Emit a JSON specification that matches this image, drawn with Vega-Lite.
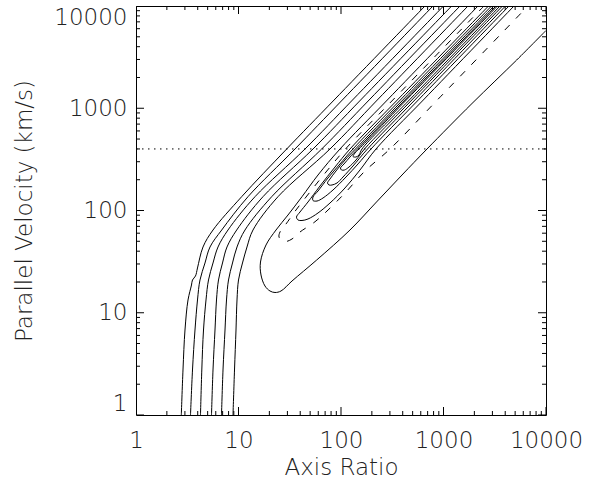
{
  "$schema": "https://vega.github.io/schema/vega-lite/v6.json",
  "width": 410,
  "height": 409,
  "autosize": {"type": "none"},
  "padding": {"left": 136, "top": 6, "right": 49, "bottom": 70},
  "background": "white",
  "config": {
    "view": {"stroke": "black", "strokeWidth": 1},
    "axis": {
      "domain": false,
      "grid": false,
      "ticks": false,
      "tickSize": 0,
      "labelFont": "DejaVu Sans",
      "labelFontWeight": 200,
      "labelFontSize": 23,
      "labelColor": "#222",
      "titleFont": "DejaVu Sans",
      "titleFontWeight": 200,
      "titleFontSize": 23,
      "titleColor": "#222",
      "labelOverlap": false,
      "labelFlush": false,
      "labelBound": false
    }
  },
  "datasets": {
    "contours": [
      {"c":"A1","o":1,"x":2.767,"y":1},
      {"c":"A1","o":2,"x":2.874,"y":2.755},
      {"c":"A1","o":3,"x":3.006,"y":6.781},
      {"c":"A1","o":4,"x":3.217,"y":13.33},
      {"c":"A1","o":5,"x":3.479,"y":18.68},
      {"c":"A1","o":6,"x":3.558,"y":20.91},
      {"c":"A1","o":7,"x":3.806,"y":22.88},
      {"c":"A1","o":8,"x":3.981,"y":27.4},
      {"c":"A1","o":9,"x":4.506,"y":43.96},
      {"c":"A1","o":10,"x":5.64,"y":64.46},
      {"c":"A1","o":11,"x":10.74,"y":136.5},
      {"c":"A1","o":12,"x":29.53,"y":399.5},
      {"c":"A1","o":13,"x":85.64,"y":1204},
      {"c":"A1","o":14,"x":659.8,"y":10000},

      {"c":"A2","o":1,"x":3.402,"y":1},
      {"c":"A2","o":2,"x":3.558,"y":2.755},
      {"c":"A2","o":3,"x":3.763,"y":6.781},
      {"c":"A2","o":4,"x":3.981,"y":13.33},
      {"c":"A2","o":5,"x":4.21,"y":20.91},
      {"c":"A2","o":6,"x":4.711,"y":30.66},
      {"c":"A2","o":7,"x":5.272,"y":43.96},
      {"c":"A2","o":8,"x":6.857,"y":64.46},
      {"c":"A2","o":9,"x":12.38,"y":136.5},
      {"c":"A2","o":10,"x":35.58,"y":399.5},
      {"c":"A2","o":11,"x":102.97,"y":1204},
      {"c":"A2","o":12,"x":789.8,"y":10000},

      {"c":"A3","o":1,"x":4.258,"y":1},
      {"c":"A3","o":2,"x":4.385,"y":2.755},
      {"c":"A3","o":3,"x":4.556,"y":6.781},
      {"c":"A3","o":4,"x":4.819,"y":13.33},
      {"c":"A3","o":5,"x":5.097,"y":20.91},
      {"c":"A3","o":6,"x":5.64,"y":30.66},
      {"c":"A3","o":7,"x":6.31,"y":43.96},
      {"c":"A3","o":8,"x":7.898,"y":64.46},
      {"c":"A3","o":9,"x":14.49,"y":136.5},
      {"c":"A3","o":10,"x":44.55,"y":399.5},
      {"c":"A3","o":11,"x":129.5,"y":1204},
      {"c":"A3","o":12,"x":1000,"y":10000},

      {"c":"A4","o":1,"x":5.453,"y":1},
      {"c":"A4","o":2,"x":5.64,"y":2.755},
      {"c":"A4","o":3,"x":5.898,"y":6.781},
      {"c":"A4","o":4,"x":6.1,"y":13.33},
      {"c":"A4","o":5,"x":6.38,"y":20.91},
      {"c":"A4","o":6,"x":6.982,"y":30.66},
      {"c":"A4","o":7,"x":7.722,"y":43.96},
      {"c":"A4","o":8,"x":9.603,"y":64.46},
      {"c":"A4","o":9,"x":17.34,"y":136.5},
      {"c":"A4","o":10,"x":53.32,"y":399.5},
      {"c":"A4","o":11,"x":155.3,"y":1204},
      {"c":"A4","o":12,"x":1202,"y":10000},

      {"c":"A5","o":1,"x":6.826,"y":1},
      {"c":"A5","o":2,"x":7.061,"y":2.755},
      {"c":"A5","o":3,"x":7.385,"y":6.781},
      {"c":"A5","o":4,"x":7.638,"y":13.33},
      {"c":"A5","o":5,"x":7.989,"y":20.91},
      {"c":"A5","o":6,"x":8.739,"y":30.66},
      {"c":"A5","o":7,"x":9.669,"y":43.96},
      {"c":"A5","o":8,"x":11.57,"y":64.46},
      {"c":"A5","o":9,"x":21.09,"y":136.5},
      {"c":"A5","o":10,"x":64.81,"y":399.5},
      {"c":"A5","o":11,"x":188,"y":1204},
      {"c":"A5","o":12,"x":1449,"y":10000},

      {"c":"A6","o":1,"x":8.837,"y":1},
      {"c":"A6","o":2,"x":9.141,"y":2.755},
      {"c":"A6","o":3,"x":9.454,"y":6.781},
      {"c":"A6","o":4,"x":9.669,"y":13.33},
      {"c":"A6","o":5,"x":10,"y":20.91},
      {"c":"A6","o":6,"x":10.94,"y":30.66},
      {"c":"A6","o":7,"x":12.1,"y":43.96},
      {"c":"A6","o":8,"x":13.85,"y":64.46},
      {"c":"A6","o":9,"x":24.29,"y":136.5},
      {"c":"A6","o":10,"x":78.09,"y":399.5},
      {"c":"A6","o":11,"x":226,"y":1204},
      {"c":"A6","o":12,"x":1734,"y":10000},

      {"c":"T1","o":1,"x":2171,"y":10000},
      {"c":"T1","o":2,"x":283,"y":1204},
      {"c":"T1","o":3,"x":97.77,"y":399.5},
      {"c":"T1","o":4,"x":59.66,"y":222.4},
      {"c":"T1","o":5,"x":41.64,"y":136.5},
      {"c":"T1","o":6,"x":30.4,"y":90.36},
      {"c":"T1","o":7,"x":23.22,"y":64.46},
      {"c":"T1","o":8,"x":18.55,"y":45.99},
      {"c":"T1","o":9,"x":16.39,"y":31.35},
      {"c":"T1","o":10,"x":16.58,"y":23.4},
      {"c":"T1","o":11,"x":18.13,"y":18.26},
      {"c":"T1","o":12,"x":20.29,"y":16.32},
      {"c":"T1","o":13,"x":22.7,"y":15.78},
      {"c":"T1","o":14,"x":25.98,"y":16.32},
      {"c":"T1","o":15,"x":33.27,"y":20.44},
      {"c":"T1","o":16,"x":57.93,"y":32.8},
      {"c":"T1","o":17,"x":122.4,"y":64.46},
      {"c":"T1","o":18,"x":222,"y":121.1},
      {"c":"T1","o":19,"x":393.7,"y":222.4},
      {"c":"T1","o":20,"x":690.3,"y":399.5},
      {"c":"T1","o":21,"x":1897,"y":1113},
      {"c":"T1","o":22,"x":5177,"y":2964},
      {"c":"T1","o":23,"x":10000,"y":5760},

      {"c":"T2","o":1,"x":2484,"y":10000},
      {"c":"T2","o":2,"x":320.2,"y":1204},
      {"c":"T2","o":3,"x":110.6,"y":399.5},
      {"c":"T2","o":4,"x":71.41,"y":238},
      {"c":"T2","o":5,"x":49.84,"y":151.7},
      {"c":"T2","o":6,"x":36.39,"y":101.1},
      {"c":"T2","o":7,"x":29.07,"y":73.79},
      {"c":"T2","o":8,"x":25.4,"y":61.62},
      {"c":"T2","o":9,"x":24.84,"y":55.06},
      {"c":"T2","o":10,"x":26.57,"y":50.89},
      {"c":"T2","o":11,"x":29.07,"y":49.75},
      {"c":"T2","o":12,"x":33.27,"y":52.64},
      {"c":"T2","o":13,"x":39.81,"y":61.62},
      {"c":"T2","o":14,"x":55.76,"y":77.63},
      {"c":"T2","o":15,"x":73.02,"y":98.88},
      {"c":"T2","o":16,"x":109.4,"y":148.3},
      {"c":"T2","o":17,"x":171.4,"y":243.4},
      {"c":"T2","o":18,"x":300.6,"y":399.5},
      {"c":"T2","o":19,"x":870,"y":1204},
      {"c":"T2","o":20,"x":6674,"y":10000},

      {"c":"T3","o":1,"x":2748,"y":10000},
      {"c":"T3","o":2,"x":354.2,"y":1204},
      {"c":"T3","o":3,"x":122.4,"y":399.5},
      {"c":"T3","o":4,"x":87.4,"y":266.3},
      {"c":"T3","o":5,"x":62.39,"y":173.6},
      {"c":"T3","o":6,"x":47.64,"y":121.1},
      {"c":"T3","o":7,"x":39.81,"y":96.67},
      {"c":"T3","o":8,"x":36.81,"y":86.38},
      {"c":"T3","o":9,"x":38.06,"y":80.74},
      {"c":"T3","o":10,"x":41.64,"y":79.84},
      {"c":"T3","o":11,"x":47.64,"y":82.59},
      {"c":"T3","o":12,"x":59.66,"y":94.54},
      {"c":"T3","o":13,"x":78.09,"y":118.4},
      {"c":"T3","o":14,"x":109.4,"y":166},
      {"c":"T3","o":15,"x":153.2,"y":249},
      {"c":"T3","o":16,"x":219.5,"y":399.5},
      {"c":"T3","o":17,"x":635.2,"y":1204},
      {"c":"T3","o":18,"x":4873,"y":10000},

      {"c":"T4","o":1,"x":2939,"y":10000},
      {"c":"T4","o":2,"x":378.9,"y":1204},
      {"c":"T4","o":3,"x":130.9,"y":399.5},
      {"c":"T4","o":4,"x":97.77,"y":285},
      {"c":"T4","o":5,"x":74.69,"y":207.9},
      {"c":"T4","o":6,"x":59.66,"y":155.1},
      {"c":"T4","o":7,"x":53.32,"y":135.5},
      {"c":"T4","o":8,"x":53.32,"y":125.2},
      {"c":"T4","o":9,"x":58.33,"y":123.8},
      {"c":"T4","o":10,"x":66.74,"y":132.5},
      {"c":"T4","o":11,"x":83.57,"y":158.7},
      {"c":"T4","o":12,"x":111.9,"y":212.6},
      {"c":"T4","o":13,"x":146.5,"y":285},
      {"c":"T4","o":14,"x":196.2,"y":399.5},
      {"c":"T4","o":15,"x":567.7,"y":1204},
      {"c":"T4","o":16,"x":4355,"y":10000},

      {"c":"T5","o":1,"x":3110,"y":10000},
      {"c":"T5","o":2,"x":400.8,"y":1204},
      {"c":"T5","o":3,"x":138.5,"y":399.5},
      {"c":"T5","o":4,"x":109.4,"y":311.8},
      {"c":"T5","o":5,"x":89.36,"y":243.4},
      {"c":"T5","o":6,"x":78.09,"y":203.3},
      {"c":"T5","o":7,"x":73.85,"y":185.8},
      {"c":"T5","o":8,"x":76.38,"y":177.6},
      {"c":"T5","o":9,"x":81.7,"y":177.6},
      {"c":"T5","o":10,"x":91.41,"y":185.8},
      {"c":"T5","o":11,"x":104.6,"y":212.6},
      {"c":"T5","o":12,"x":130.9,"y":272.4},
      {"c":"T5","o":13,"x":181.4,"y":399.5},
      {"c":"T5","o":14,"x":524.8,"y":1204},
      {"c":"T5","o":15,"x":4026,"y":10000},

      {"c":"T6","o":1,"x":3252,"y":10000},
      {"c":"T6","o":2,"x":419.2,"y":1204},
      {"c":"T6","o":3,"x":144.9,"y":399.5},
      {"c":"T6","o":4,"x":122.4,"y":333.6},
      {"c":"T6","o":5,"x":107,"y":285},
      {"c":"T6","o":6,"x":98.88,"y":260.4},
      {"c":"T6","o":7,"x":101.1,"y":249},
      {"c":"T6","o":8,"x":108.2,"y":249},
      {"c":"T6","o":9,"x":119.7,"y":266.3},
      {"c":"T6","o":10,"x":140.1,"y":311.8},
      {"c":"T6","o":11,"x":169.6,"y":399.5},
      {"c":"T6","o":12,"x":490.6,"y":1204},
      {"c":"T6","o":13,"x":3764,"y":10000},

      {"c":"T7","o":1,"x":3363,"y":10000},
      {"c":"T7","o":2,"x":433.6,"y":1204},
      {"c":"T7","o":3,"x":149.9,"y":399.5},
      {"c":"T7","o":4,"x":137,"y":365},
      {"c":"T7","o":5,"x":130.9,"y":337.4},
      {"c":"T7","o":6,"x":140.1,"y":333.6},
      {"c":"T7","o":7,"x":149.9,"y":349},
      {"c":"T7","o":8,"x":160.3,"y":399.5},
      {"c":"T7","o":9,"x":463.8,"y":1204},
      {"c":"T7","o":10,"x":3558,"y":10000}
    ],
    "velocity": [
      {"x": 1, "y": 400},
      {"x": 10000, "y": 400}
    ],
    "ticks": [
      {"v":1},{"v":2},{"v":3},{"v":4},{"v":5},{"v":6},{"v":7},{"v":8},{"v":9},
      {"v":10},{"v":20},{"v":30},{"v":40},{"v":50},{"v":60},{"v":70},{"v":80},{"v":90},
      {"v":100},{"v":200},{"v":300},{"v":400},{"v":500},{"v":600},{"v":700},{"v":800},{"v":900},
      {"v":1000},{"v":2000},{"v":3000},{"v":4000},{"v":5000},{"v":6000},{"v":7000},{"v":8000},{"v":9000},
      {"v":10000}
    ]
  },
  "encoding": {
    "x": {"type": "quantitative", "scale": {"type": "log", "domain": [1, 10000], "nice": false}},
    "y": {"type": "quantitative", "scale": {"type": "log", "domain": [1, 10000], "nice": false}}
  },
  "layer": [
    {
      "data": {"name": "contours"},
      "transform": [{"filter": "datum.c != 'T2'"}],
      "mark": {"type": "line", "interpolate": "catmull-rom", "stroke": "black", "strokeWidth": 1, "clip": true},
      "encoding": {
        "x": {
          "field": "x", "type": "quantitative",
          "axis": {
            "orient": "bottom",
            "values": [1, 10, 100, 1000, 10000],
            "format": "d",
            "labelPadding": 14,
            "title": "Axis Ratio",
            "titlePadding": 4
          }
        },
        "y": {
          "field": "y", "type": "quantitative",
          "axis": {
            "orient": "left",
            "values": [1, 10, 100, 1000, 10000],
            "format": "d",
            "labelPadding": 9,
            "labelFlush": true,
            "title": "Parallel Velocity (km/s)",
            "titlePadding": 17
          }
        },
        "detail": {"field": "c", "type": "nominal"},
        "order": {"field": "o", "type": "quantitative"}
      }
    },
    {
      "data": {"name": "contours"},
      "transform": [{"filter": "datum.c == 'T2'"}],
      "mark": {"type": "line", "interpolate": "catmull-rom", "stroke": "black", "strokeWidth": 1, "strokeDash": [7, 9], "clip": true},
      "encoding": {
        "x": {"field": "x", "type": "quantitative", "axis": null},
        "y": {"field": "y", "type": "quantitative", "axis": null},
        "detail": {"field": "c", "type": "nominal"},
        "order": {"field": "o", "type": "quantitative"}
      }
    },
    {
      "data": {"name": "velocity"},
      "mark": {"type": "line", "stroke": "black", "strokeWidth": 1, "strokeDash": [1.5, 4.5]},
      "encoding": {
        "x": {"field": "x", "type": "quantitative", "axis": null},
        "y": {"field": "y", "type": "quantitative", "axis": null}
      }
    },
    {
      "data": {"name": "ticks"},
      "mark": {"type": "tick", "orient": "vertical", "thickness": 1, "color": "black", "opacity": 1, "clip": true},
      "encoding": {
        "x": {"field": "v", "type": "quantitative", "axis": null},
        "y": {"datum": 1, "type": "quantitative", "axis": null},
        "size": {"condition": {"test": "abs(log(datum.v)/LN10 - round(log(datum.v)/LN10)) < 0.001", "value": 16}, "value": 8}
      }
    },
    {
      "data": {"name": "ticks"},
      "mark": {"type": "tick", "orient": "vertical", "thickness": 1, "color": "black", "opacity": 1, "clip": true},
      "encoding": {
        "x": {"field": "v", "type": "quantitative", "axis": null},
        "y": {"datum": 10000, "type": "quantitative", "axis": null},
        "size": {"condition": {"test": "abs(log(datum.v)/LN10 - round(log(datum.v)/LN10)) < 0.001", "value": 16}, "value": 8}
      }
    },
    {
      "data": {"name": "ticks"},
      "mark": {"type": "tick", "orient": "horizontal", "thickness": 1, "color": "black", "opacity": 1, "clip": true},
      "encoding": {
        "y": {"field": "v", "type": "quantitative", "axis": null},
        "x": {"datum": 1, "type": "quantitative", "axis": null},
        "size": {"condition": {"test": "abs(log(datum.v)/LN10 - round(log(datum.v)/LN10)) < 0.001", "value": 16}, "value": 8}
      }
    },
    {
      "data": {"name": "ticks"},
      "mark": {"type": "tick", "orient": "horizontal", "thickness": 1, "color": "black", "opacity": 1, "clip": true},
      "encoding": {
        "y": {"field": "v", "type": "quantitative", "axis": null},
        "x": {"datum": 10000, "type": "quantitative", "axis": null},
        "size": {"condition": {"test": "abs(log(datum.v)/LN10 - round(log(datum.v)/LN10)) < 0.001", "value": 16}, "value": 8}
      }
    }
  ],
  "resolve": {"axis": {"x": "independent", "y": "independent"}}
}
